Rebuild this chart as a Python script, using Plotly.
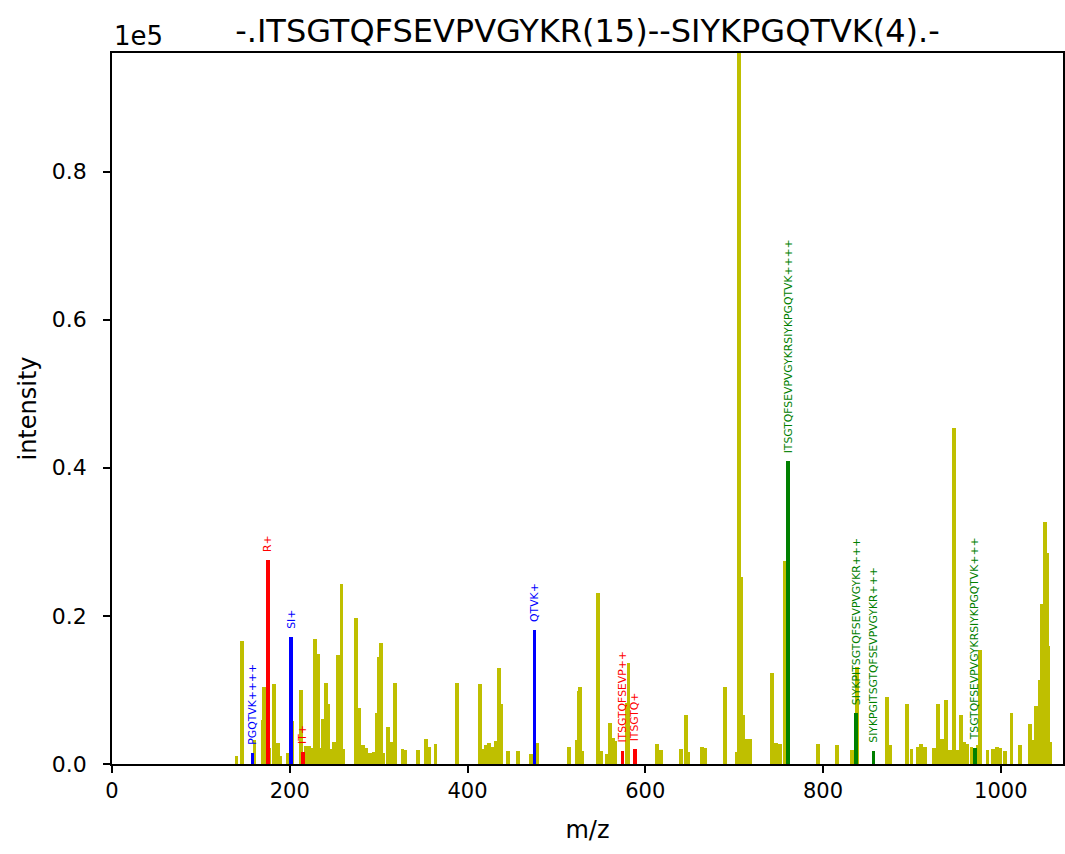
import plotly.graph_objects as go

# ---- data ----
peak_mz = [140.0, 146.1, 160.3, 169.5, 171.2, 177.0, 182.4, 186.6, 189.5, 197.4,
           203.0, 212.5, 216.2, 218.5, 221.5, 225.0, 228.2, 231.5, 234.5, 237.6,
           240.6, 243.6, 246.5, 249.5, 254.5, 258.2, 260.5, 274.7, 277.5, 279.6,
           282.6, 286.4, 290.1, 294.4, 297.8, 299.9, 302.9, 305.0, 310.7, 313.5,
           318.6, 326.9, 329.5, 344.5, 353.3, 356.9, 364.0, 388.0, 414.3, 418.8,
           421.0, 424.4, 427.5, 431.9, 435.1, 438.0, 445.2, 457.0, 471.3, 478.0,
           514.5, 523.5, 525.1, 526.8, 529.0, 547.1, 550.0, 556.3, 560.6, 563.6,
           566.5, 579.0, 581.1, 613.5, 618.0, 640.5, 645.8, 648.5, 664.1, 667.0,
           689.3, 703.0, 705.8, 708.0, 709.5, 713.3, 717.6, 743.0, 747.0, 751.4,
           757.6, 794.5, 816.0, 832.4, 838.6, 872.3, 875.0, 894.8, 899.6, 906.5,
           910.3, 914.4, 925.0, 929.5, 933.5, 938.2, 942.5, 947.0, 950.5, 954.9,
           958.5, 962.4, 967.0, 974.5, 977.0, 985.0, 991.6, 995.8, 999.0, 1005.0,
           1012.0, 1022.0, 1033.0, 1036.0, 1040.0, 1044.5, 1046.5, 1049.5, 1052.0, 1053.5,
           1055.0]
peak_int = [1100, 16600, 3200, 5900, 10400, 2200, 10800, 2900, 1100, 1500,
            5850, 10000, 1500, 2400, 2400, 2200, 16900, 14800, 2200, 6100,
            10900, 8050, 2000, 3000, 14700, 24300, 2000, 19700, 7500, 2000,
            2500, 2100, 1550, 1650, 6850, 14500, 16300, 1500, 4950, 3000,
            11000, 2050, 1900, 1900, 3350, 2350, 2700, 11000, 10800, 2050,
            2600, 2800, 2300, 3100, 12900, 8050, 1750, 1700, 1350, 2900,
            2250, 3250, 9900, 10350, 1750, 23050, 1750, 1400, 5500, 3450,
            3100, 8250, 13600, 2700, 1900, 2050, 6600, 1600, 2250, 2100,
            10450, 1600, 96000, 25200, 6600, 3350, 3350, 12250, 2800, 2700,
            27400, 2700, 2500, 1900, 13150, 9100, 2500, 8050, 2000, 2350,
            2700, 2350, 2100, 8050, 3350, 8600, 1900, 45400, 1900, 6600,
            3000, 2700, 2250, 2600, 15400, 1900, 2050, 2350, 2200, 1800,
            6900, 2500, 5400, 3200, 7850, 11350, 21600, 32700, 28500, 16000,
            3000]

red_mz = [175.1, 215.1, 574.3, 588.3]
red_int = [27560, 1580, 1800, 2030]
red_labels = ["R+", "IT+", "ITSGTQFSEVP++", "ITSGTQ+"]

blue_mz = [158.1, 201.1, 475.3]
blue_int = [1530, 17200, 18100]
blue_labels = ["PGQTVK++++", "SI+", "QTVK+"]

green_mz = [760.9, 837.5, 856.8, 971.4]
green_int = [40900, 6850, 1800, 2100]
green_labels = ["ITSGTQFSEVPVGYKRSIYKPGQTVK++++", "SIYKPITSGTQFSEVPVGYKR+++",
                "SIYKPGITSGTQFSEVPVGYKR+++", "TSGTQFSEVPVGYKRSIYKPGQTVK+++"]

x_ticks = [0, 200, 400, 600, 800, 1000]
y_ticks = [0, 20000, 40000, 60000, 80000]
y_ticktext = ["0.0", "0.2", "0.4", "0.6", "0.8"]

title_text = "-.ITSGTQFSEVPVGYKR(15)--SIYKPGQTVK(4).-"

# ---- figure ----
FONT = "DejaVu Sans"
BAR_W = 4.3
W, H = 1065, 854
ML, MR, MT, MB = 112, 2, 53, 90

fig = go.Figure()
fig.add_trace(go.Bar(x=peak_mz, y=peak_int, width=BAR_W,
                     marker=dict(color="#bfbf00", line=dict(width=0)),
                     showlegend=False))
for mz, inten, col in [(red_mz, red_int, "#ff0000"),
                       (blue_mz, blue_int, "#0000ff"),
                       (green_mz, green_int, "#008000")]:
    fig.add_trace(go.Bar(x=mz, y=inten, width=BAR_W,
                         marker=dict(color=col, line=dict(width=0)),
                         showlegend=False))

annotations = []
for mz, inten, labels, col in [(red_mz, red_int, red_labels, "#ff0000"),
                               (blue_mz, blue_int, blue_labels, "#0000ff"),
                               (green_mz, green_int, green_labels, "#008000")]:
    for xv, yv, t in zip(mz, inten, labels):
        annotations.append(dict(x=xv, y=yv, text=t, showarrow=False,
                                textangle=-90, xanchor="center", yanchor="bottom",
                                yshift=6, font=dict(family=FONT, size=10.8, color=col)))

annotations.append(dict(x=0, y=1, xref="paper", yref="paper", text="1e5",
                        showarrow=False, xanchor="left", yanchor="bottom", yshift=0,
                        font=dict(family=FONT, size=26, color="black")))

fig.update_layout(
    width=W, height=H,
    margin=dict(l=ML, r=MR, t=MT, b=MB, autoexpand=False),
    paper_bgcolor="white", plot_bgcolor="white",
    barmode="overlay", bargap=0,
    font=dict(family=FONT, color="black"),
    title=dict(text=title_text, x=(ML + (W - ML - MR) / 2) / W, xanchor="center",
               y=1 - 31 / H, yanchor="middle",
               font=dict(family=FONT, size=32, color="black")),
    annotations=annotations,
)
fig.update_xaxes(range=[0, 1070], tickvals=x_ticks, ticks="outside", ticklen=7,
                 tickwidth=1.6, tickcolor="black", showline=True, linecolor="black",
                 linewidth=1.6, mirror=True, showgrid=False, zeroline=False,
                 automargin=False,
                 tickfont=dict(family=FONT, size=21, color="black"),
                 title=dict(text="m/z", font=dict(family=FONT, size=24, color="black"),
                            standoff=19))
fig.update_yaxes(range=[0, 96000], tickvals=y_ticks, ticktext=y_ticktext,
                 ticks="outside", ticklen=7, tickwidth=1.6, tickcolor="black",
                 showline=True, linecolor="black", linewidth=1.6, mirror=True,
                 showgrid=False, zeroline=False, automargin=False,
                 ticklabelstandoff=12,
                 tickfont=dict(family=FONT, size=22, color="black"),
                 title=dict(text="intensity", font=dict(family=FONT, size=24, color="black"),
                            standoff=8))

fig.write_html("out.html",
               config={"displayModeBar": False},
               post_script="document.body.style.margin='0px';"
                           "document.body.style.overflow='hidden';")
